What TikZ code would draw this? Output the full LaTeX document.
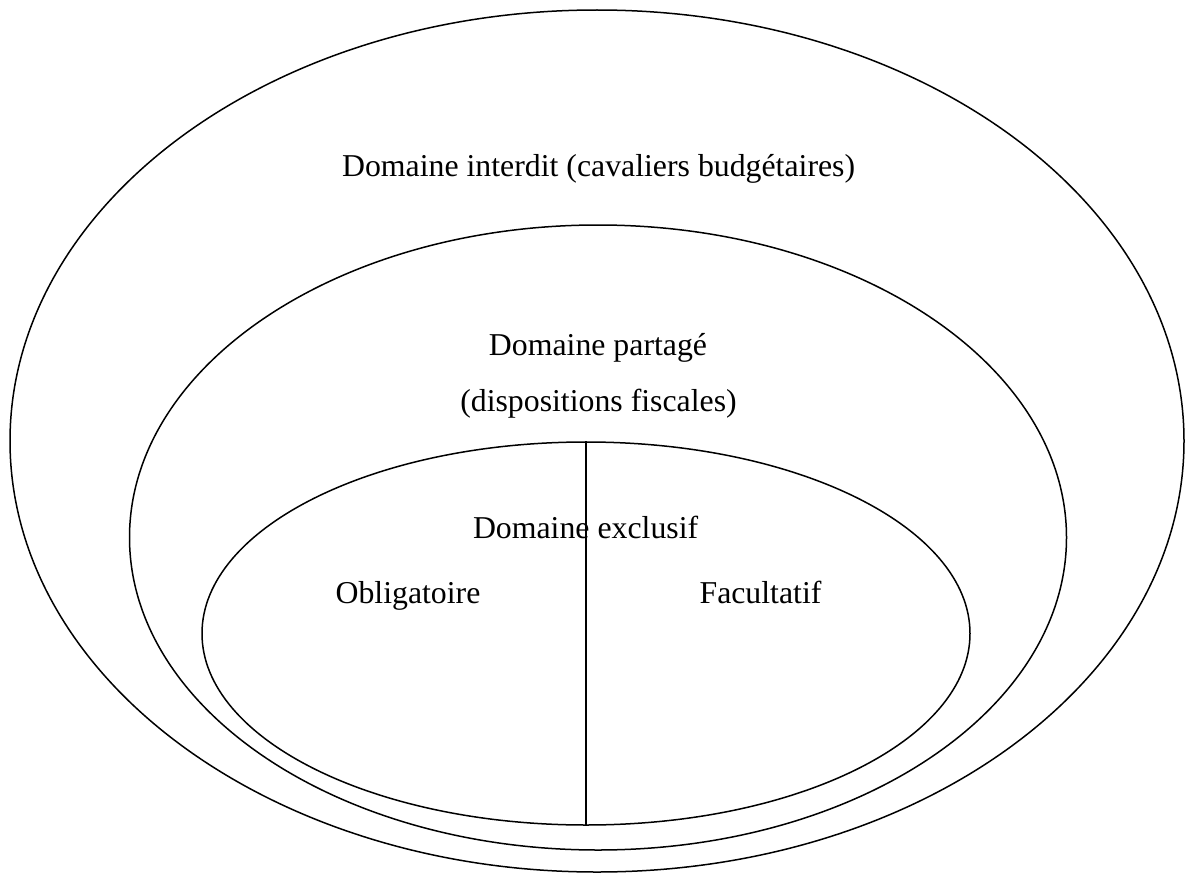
\documentclass[tikz,border=0pt]{standalone}
\usepackage{fontspec}
\setmainfont{Liberation Serif}
\usetikzlibrary{shapes.geometric}
\begin{document}
\begin{tikzpicture}[x=1pt, y=-1pt, line width=1.5pt,
  ring/.style={draw, ellipse, inner sep=0pt},
  lbl/.style={anchor=base, inner sep=0pt, font=\fontsize{31.8}{38}\selectfont}]
\useasboundingbox (0,0) rectangle (1186,875);
\node[ring, minimum width=1174pt, minimum height=862pt] (interdit) at (597,441) {};
\node[ring, minimum width=937pt, minimum height=625pt] (partage) at (598,537.5) {};
\node[ring, minimum width=768pt, minimum height=383pt] (exclusif) at (586,633.5) {};
\draw (exclusif.north) -- (exclusif.south);
\node[lbl] (tinterdit) at (598.6,176) {Domaine interdit (cavaliers budgétaires)};
\node[lbl] (tpartage) at (598,355) {Domaine partagé};
\node[lbl] (tfiscal) at (598.5,411) {(dispositions fiscales)};
\node[lbl] (texclusif) at (585.6,538) {Domaine exclusif};
\node[lbl] (toblig) at (408,603) {Obligatoire};
\node[lbl] (tfacult) at (760.5,603) {Facultatif};
\end{tikzpicture}
\end{document}
